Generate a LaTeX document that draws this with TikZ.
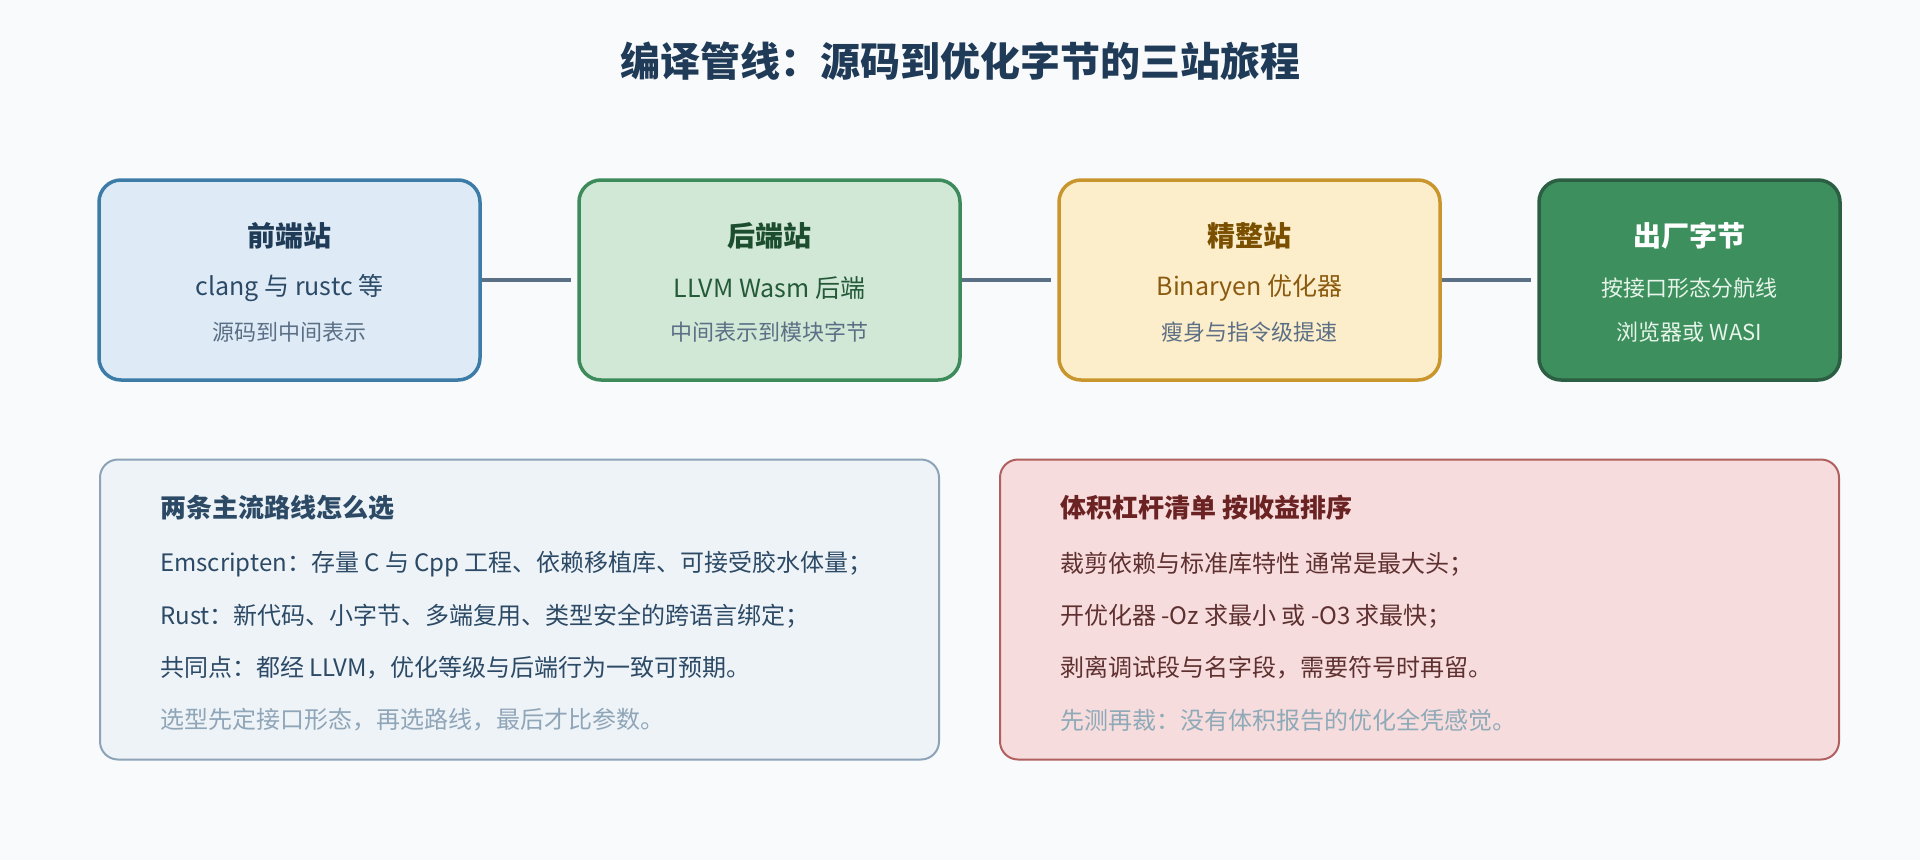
\documentclass[tikz,border=0pt]{standalone}
\usepackage{fontspec}
\setmainfont{Noto Sans CJK SC}
\usetikzlibrary{calc}
\definecolor{bgc}{HTML}{F8FAFC}
\definecolor{titlec}{HTML}{1F3B57}
\definecolor{linkc}{HTML}{5B6F85}
\definecolor{grayc}{HTML}{5B6F85}
\definecolor{bAf}{HTML}{DEEBF7}
\definecolor{bAd}{HTML}{3E7CA8}
\definecolor{bAt}{HTML}{1F3B57}
\definecolor{bAs}{HTML}{2C4A66}
\definecolor{bBf}{HTML}{D1E8D7}
\definecolor{bBd}{HTML}{3D8B5A}
\definecolor{bBt}{HTML}{1B4D2E}
\definecolor{bBs}{HTML}{245A38}
\definecolor{bCf}{HTML}{FDEECB}
\definecolor{bCd}{HTML}{C9962E}
\definecolor{bCt}{HTML}{7A5000}
\definecolor{bCs}{HTML}{8A5A0F}
\definecolor{bDf}{HTML}{3D8F5D}
\definecolor{bDd}{HTML}{2B5E42}
\definecolor{bDs}{HTML}{E6F4EA}
\definecolor{pLf}{HTML}{EEF3F7}
\definecolor{pLd}{HTML}{8CA3B8}
\definecolor{pLt}{HTML}{2C4A66}
\definecolor{pLn}{HTML}{8FA5B8}
\definecolor{pRf}{HTML}{F7DCDD}
\definecolor{pRd}{HTML}{B0605F}
\definecolor{pRt}{HTML}{6B2222}
\definecolor{pRs}{HTML}{5E3030}
\definecolor{pRn}{HTML}{8EAAB8}
\begin{document}
\begin{tikzpicture}[x=1pt,y=-1pt,
  station/.style={draw, line width=3.5pt, rounded corners=22pt, minimum width=381pt, minimum height=200pt, inner sep=0pt},
  panel/.style={draw, line width=2pt, rounded corners=18pt, minimum width=839pt, minimum height=300pt, inner sep=0pt},
  ttl/.style={font=\fontsize{28}{32}\selectfont\bfseries},
  sub/.style={font=\fontsize{25}{30}\selectfont},
  note/.style={font=\fontsize{22}{26}\selectfont},
  ptxt/.style={anchor=west, inner sep=0pt, font=\fontsize{24}{28}\selectfont},
  ptitle/.style={anchor=west, inner sep=0pt, font=\fontsize{26}{30}\selectfont\bfseries},
  link/.style={draw=linkc, line width=4pt, shorten >=6pt}]
\useasboundingbox[fill=bgc] (0,0) rectangle (1920,860);
\node[font=\fontsize{40}{46}\selectfont\bfseries, text=titlec] (title) at (960,61) {编译管线：源码到优化字节的三站旅程};
% stations
\node[station, fill=bAf, draw=bAd] (s1) at (289.5,280) {};
\node[station, fill=bBf, draw=bBd] (s2) at (769.5,280) {};
\node[station, fill=bCf, draw=bCd] (s3) at (1249.5,280) {};
\node[station, fill=bDf, draw=bDd, minimum width=301pt] (s4) at (1689.5,280) {};
\draw[link] (s1.east) -- (s2.west);
\draw[link] (s2.east) -- (s3.west);
\draw[link] (s3.east) -- (s4.west);
\node[ttl, text=bAt] (s1a) at (289.5,236) {前端站};
\node[sub, text=bAs] (s1b) at (289.5,288) {clang 与 rustc 等};
\node[note, text=grayc] (s1c) at (289.5,332) {源码到中间表示};
\node[ttl, text=bBt] (s2a) at (769.5,236) {后端站};
\node[sub, text=bBs] (s2b) at (769.5,288) {LLVM Wasm 后端};
\node[note, text=grayc] (s2c) at (769.5,332) {中间表示到模块字节};
\node[ttl, text=bCt] (s3a) at (1249.5,236) {精整站};
\node[sub, text=bCs] (s3b) at (1249.5,288) {Binaryen 优化器};
\node[note, text=grayc] (s3c) at (1249.5,332) {瘦身与指令级提速};
\node[ttl, text=white] (s4a) at (1689.5,236) {出厂字节};
\node[note, text=bDs] (s4b) at (1689.5,288) {按接口形态分航线};
\node[note, text=bDs] (s4c) at (1689.5,332) {浏览器或 WASI};
% panels
\node[panel, fill=pLf, draw=pLd] (pl) at (519.5,609.5) {};
\node[panel, fill=pRf, draw=pRd] (pr) at (1419.5,609.5) {};
\node[ptitle, text=pLt] (pl0) at (160,508) {两条主流路线怎么选};
\node[ptxt, text=pLt] (pl1) at (160,564) {Emscripten：存量 C 与 Cpp 工程、依赖移植库、可接受胶水体量；};
\node[ptxt, text=pLt] (pl2) at (160,616) {Rust：新代码、小字节、多端复用、类型安全的跨语言绑定；};
\node[ptxt, text=pLt] (pl3) at (160,668) {共同点：都经 LLVM，优化等级与后端行为一致可预期。};
\node[ptxt, text=pLn] (pl4) at (160,720) {选型先定接口形态，再选路线，最后才比参数。};
\node[ptitle, text=pRt] (pr0) at (1060,508) {体积杠杆清单 按收益排序};
\node[ptxt, text=pRs] (pr1) at (1060,564) {裁剪依赖与标准库特性 通常是最大头；};
\node[ptxt, text=pRs] (pr2) at (1060,616) {开优化器 -Oz 求最小 或 -O3 求最快；};
\node[ptxt, text=pRs] (pr3) at (1060,668) {剥离调试段与名字段，需要符号时再留。};
\node[ptxt, text=pRn] (pr4) at (1060,720) {先测再裁：没有体积报告的优化全凭感觉。};
\end{tikzpicture}
\end{document}
